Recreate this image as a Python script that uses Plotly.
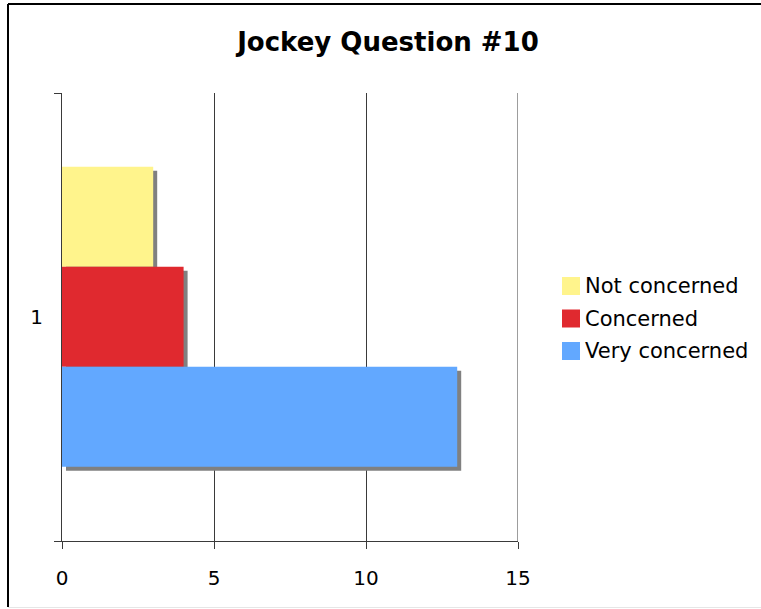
import plotly.graph_objects as go

# Survey answers for question #10
categories = ["1"]
series_names = ["Not concerned", "Concerned", "Very concerned"]
series_values = [[3], [4], [13]]
series_colors = ["#FFF48C", "#E0292F", "#62A8FF"]
x_tick_values = [0, 5, 10, 15]

W, H = 761, 609
L, R, T, B = 62, 243, 93, 68
plot_w = W - L - R
plot_h = H - T - B

x_range = [0, 15]
px_per_unit_x = plot_w / (x_range[1] - x_range[0])
px_per_unit_y = plot_h  # category axis spans [-0.5, 0.5]

bar_w = 100 / px_per_unit_y
offsets = [0.112, 0.112 - bar_w, 0.112 - 2 * bar_w]
shadow_dx = 4 / px_per_unit_x
shadow_dy = 4 / px_per_unit_y

fig = go.Figure()

# drop shadows first, so the bars sit on top of them
for name, vals, off in zip(series_names, series_values, offsets):
    fig.add_trace(go.Bar(
        y=categories, x=vals, base=shadow_dx, orientation="h",
        width=bar_w, offset=off - shadow_dy,
        marker=dict(color="#808080", line=dict(width=0)),
        showlegend=False, hoverinfo="skip",
    ))

for name, vals, off, col in zip(series_names, series_values, offsets, series_colors):
    fig.add_trace(go.Bar(
        y=categories, x=vals, name=name, orientation="h",
        width=bar_w, offset=off,
        marker=dict(color=col, line=dict(width=0)),
        showlegend=False,
    ))


def px_x(p):
    return (p - L) / plot_w


def px_y(p):
    return (H - B - p) / plot_h


font_family = "Verdana, DejaVu Sans, sans-serif"
grid_color = "#3A3A3A"

shapes = [
    # outer frame: top and left edges
    dict(type="line", xref="paper", yref="paper",
         x0=px_x(8), x1=px_x(761), y0=px_y(4), y1=px_y(4),
         line=dict(color="black", width=2)),
    dict(type="line", xref="paper", yref="paper",
         x0=px_x(8), x1=px_x(8), y0=px_y(4), y1=px_y(607),
         line=dict(color="black", width=2)),
    dict(type="line", xref="paper", yref="paper",
         x0=px_x(8), x1=px_x(761), y0=px_y(607.5), y1=px_y(607.5),
         line=dict(color="#E6E6E6", width=1)),
    # gridline at the far end of the value axis
    dict(type="line", xref="x", yref="paper",
         x0=x_tick_values[-1], x1=x_tick_values[-1], y0=0, y1=1,
         line=dict(color=grid_color, width=1), layer="below"),
]

# legend: square swatch + label per series
annotations = []
legend_x, legend_y0, legend_step, swatch = 562, 286, 32.5, 18
for i, (name, col) in enumerate(zip(series_names, series_colors)):
    cy = legend_y0 + i * legend_step
    shapes.append(dict(type="rect", xref="paper", yref="paper",
                       x0=px_x(legend_x), x1=px_x(legend_x + swatch),
                       y0=px_y(cy - swatch / 2), y1=px_y(cy + swatch / 2),
                       fillcolor=col, line=dict(width=0)))
    annotations.append(dict(text=name, xref="paper", yref="paper",
                            x=px_x(583), xanchor="left", y=px_y(cy),
                            yanchor="middle", showarrow=False,
                            font=dict(family=font_family, size=21, color="black")))

fig.update_layout(
    width=W, height=H,
    margin=dict(l=L, r=R, t=T, b=B, pad=0),
    paper_bgcolor="white", plot_bgcolor="white",
    barmode="overlay",
    showlegend=False,
    title=dict(text="<b>Jockey Question #10</b>", x=px_x(388), xanchor="center",
               xref="paper", y=1 - 41.5 / H, yanchor="middle",
               font=dict(family=font_family, size=26, color="black")),
    font=dict(family=font_family, color="black"),
    xaxis=dict(range=x_range, tickvals=x_tick_values, showgrid=True,
               gridcolor=grid_color, gridwidth=1, zeroline=False,
               showline=True, linecolor=grid_color, linewidth=1,
               ticks="outside", ticklen=7, tickcolor=grid_color,
               tickfont=dict(size=20), ticklabelstandoff=12,
               fixedrange=True),
    yaxis=dict(type="category", range=[-0.5, 0.5], showgrid=False,
               zeroline=False, showline=True, linecolor=grid_color, linewidth=1,
               ticks="outside", ticklen=7, tickcolor=grid_color,
               tickson="boundaries", tickfont=dict(size=20), ticklabelstandoff=14,
               fixedrange=True),
    shapes=shapes,
    annotations=annotations,
)

fig.write_html("out.html")
